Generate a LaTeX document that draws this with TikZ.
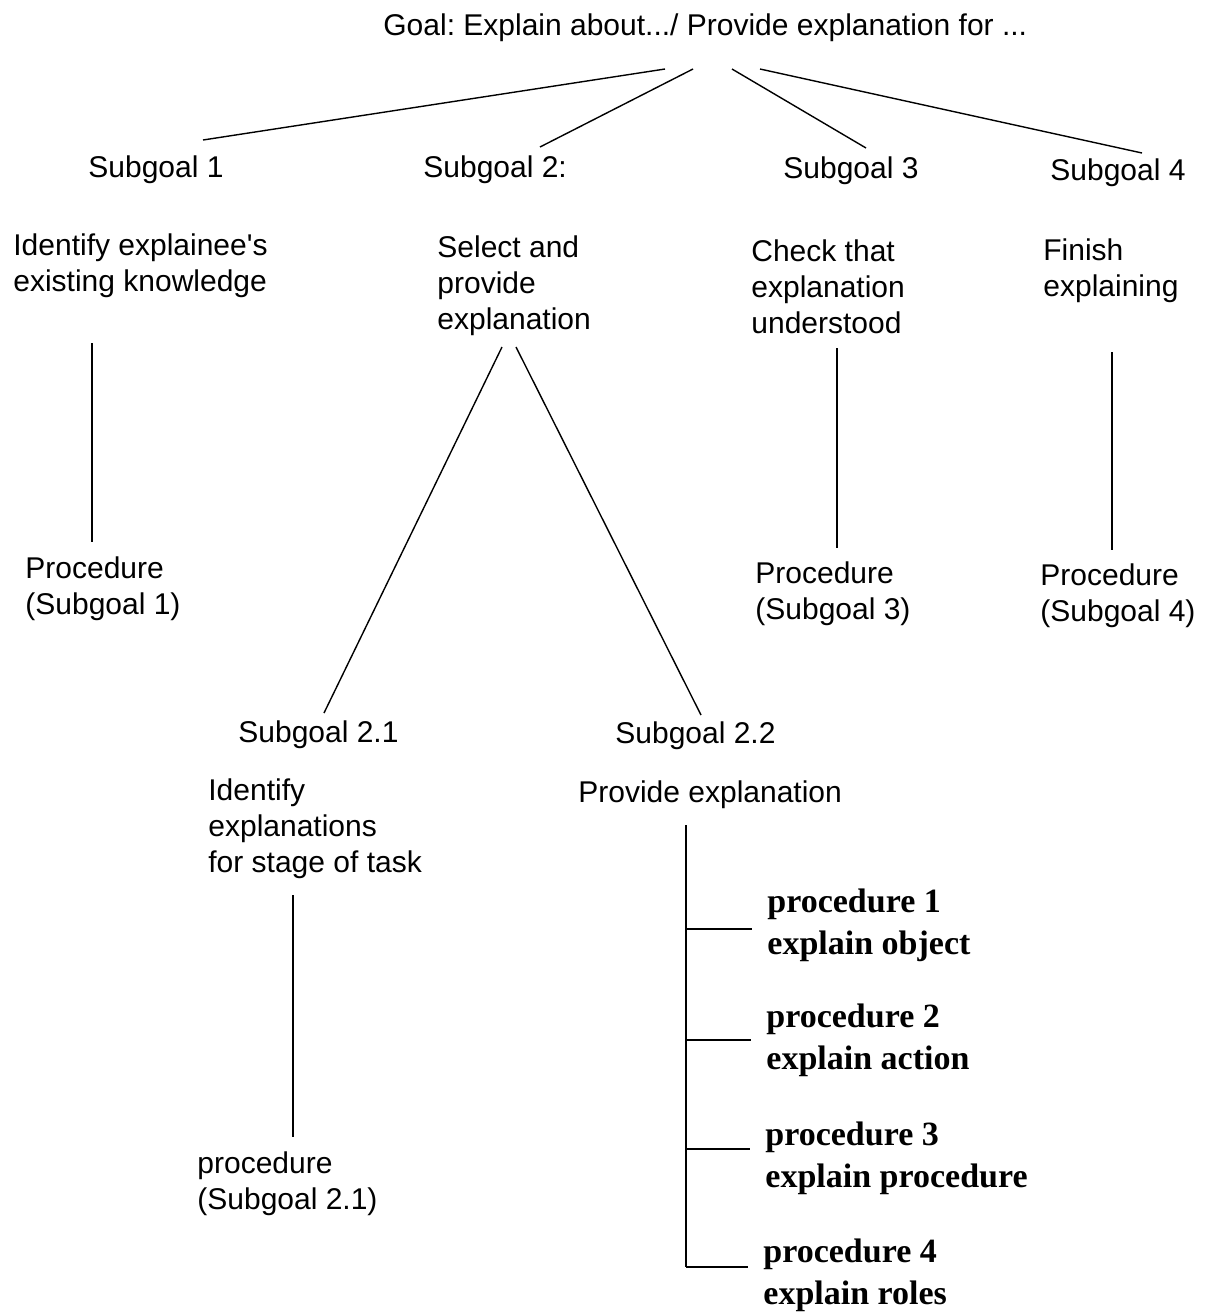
\documentclass[tikz,border=0pt]{standalone}
\usepackage{fontspec}
\setmainfont{Liberation Sans}
\newfontfamily\procfont{Liberation Serif}
\usepackage{tikz}
\frenchspacing

\begin{document}
\begin{tikzpicture}[x=0.5pt, y=-0.5pt, every node/.style={font=\fontsize{15pt}{18pt}\selectfont}]
    \tikzset{txt/.style={anchor=west, align=left, inner sep=0pt, yshift=-1.5pt},
             proc/.style={txt, font=\procfont\bfseries\fontsize{17pt}{21pt}\selectfont},
             link/.style={line width=0.7pt}}
    \useasboundingbox (0,0) rectangle (1208,1313);

    \node[txt] (goal) at (383,25) {Goal: Explain about.../ Provide explanation for ...};

    \node[txt] (sg1) at (88,167) {Subgoal 1};
    \node[txt] (sg2) at (423,167) {Subgoal 2:};
    \node[txt] (sg3) at (783,168) {Subgoal 3};
    \node[txt] (sg4) at (1050,170) {Subgoal 4};

    \node[txt] (d1) at (13,263) {Identify explainee\textquotesingle s\\existing knowledge};
    \node[txt] (d2) at (437,283) {Select and\\provide\\explanation};
    \node[txt] (d3) at (751,284) {Check that\\explanation\\understood};
    \node[txt] (d4) at (1043,268) {Finish\\explaining};

    \node[txt] (p1) at (25,586) {Procedure\\(Subgoal 1)};
    \node[txt] (p3) at (755,591) {Procedure\\(Subgoal 3)};
    \node[txt] (p4) at (1040,593) {Procedure\\(Subgoal 4)};

    \node[txt] (sg21) at (238,732) {Subgoal 2.1};
    \node[txt] (sg22) at (615,733) {Subgoal 2.2};
    \node[txt] (d21) at (208,826) {Identify\\explanations\\for stage of task};
    \node[txt] (d22) at (578,792) {Provide explanation};
    \node[txt] (p21) at (197,1181) {procedure\\(Subgoal 2.1)};

    \node[proc] (pr1) at (767,922) {procedure 1\\explain object};
    \node[proc] (pr2) at (766,1037) {procedure 2\\explain action};
    \node[proc] (pr3) at (765,1155) {procedure 3\\explain procedure};
    \node[proc] (pr4) at (763,1272) {procedure 4\\explain roles};

    % line ends
    \coordinate (g1) at (665,69);  \coordinate (s1) at (203,140);
    \coordinate (g2) at (693,69);  \coordinate (s2) at (540,147);
    \coordinate (g3) at (732,69);  \coordinate (s3) at (866,148);
    \coordinate (g4) at (760,69);  \coordinate (s4) at (1142,153);
    \coordinate (v1a) at (92,343);   \coordinate (v1b) at (92,542);
    \coordinate (v3a) at (837,348);  \coordinate (v3b) at (837,548);
    \coordinate (v4a) at (1112,352); \coordinate (v4b) at (1112,550);
    \coordinate (b1) at (502,347);   \coordinate (e21) at (324,713);
    \coordinate (b2) at (516,347);   \coordinate (e22) at (701,715);
    \coordinate (v21a) at (293,895); \coordinate (v21b) at (293,1137);
    \coordinate (spine) at (686,825);

    \foreach \a/\b in {g1/s1, g2/s2, g3/s3, g4/s4, v1a/v1b, v3a/v3b, v4a/v4b, b1/e21, b2/e22, v21a/v21b} {
        \draw[link] (\a) -- (\b);
    }

    \draw[link] (spine) -- ([yshift=4pt]spine |- pr4.west);
    \foreach \n/\dy in {pr1/-2pt, pr2/0pt, pr3/4.5pt, pr4/4pt} {
        \draw[link] ([yshift=\dy]spine |- \n.west) -- ([xshift=-7.5pt,yshift=\dy]\n.west);
    }
\end{tikzpicture}
\end{document}
